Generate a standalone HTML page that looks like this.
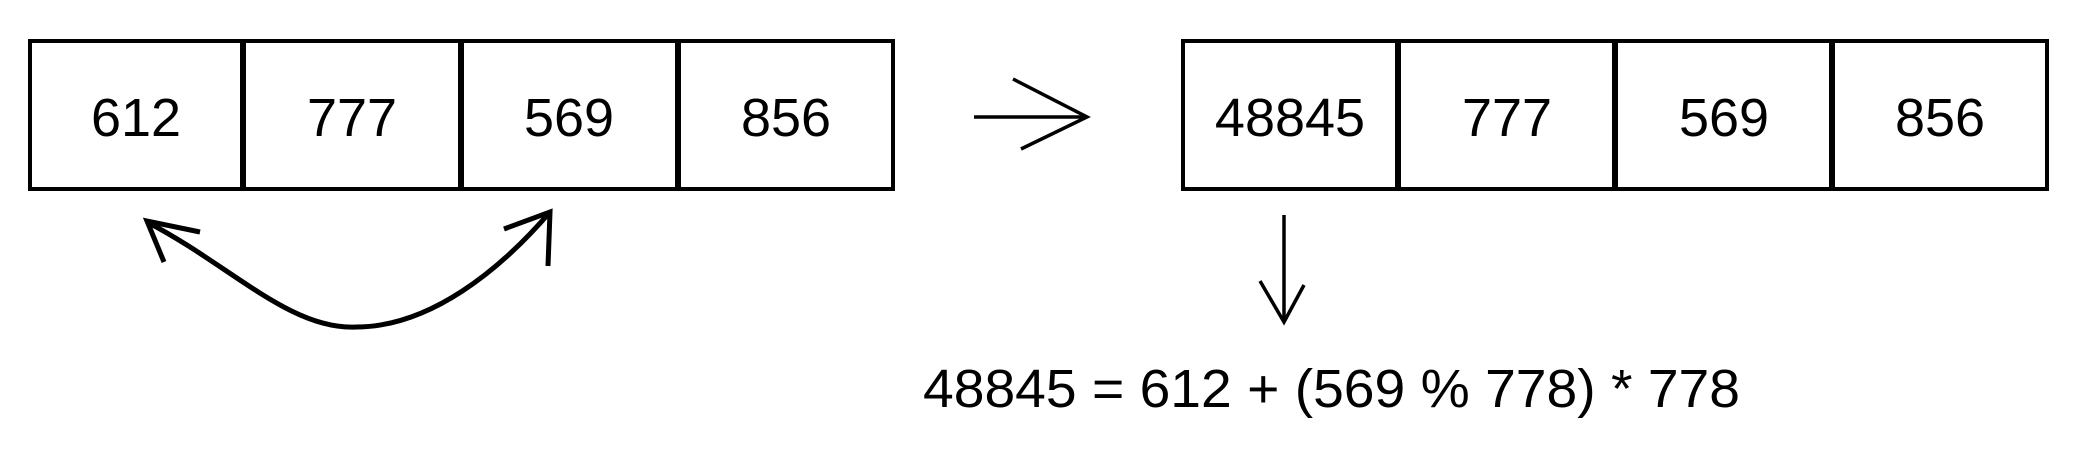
<!DOCTYPE html>
<html><head><meta charset="utf-8"><style>
html,body{margin:0;padding:0;background:#fff;}
svg{display:block;}
text{font-family:"Liberation Sans",sans-serif;fill:#000;}
</style></head><body>
<svg width="2099" height="449" viewBox="0 0 2099 449">
<g>
<rect x="30" y="41" width="863" height="148" fill="none" stroke="#000" stroke-width="4"/>
<line x1="243" y1="40" x2="243" y2="190" stroke="#000" stroke-width="6"/>
<line x1="461" y1="40" x2="461" y2="190" stroke="#000" stroke-width="6"/>
<line x1="678" y1="40" x2="678" y2="190" stroke="#000" stroke-width="6"/>
<text x="136" y="136" font-size="54" text-anchor="middle">612</text>
<text x="352" y="136" font-size="54" text-anchor="middle">777</text>
<text x="569" y="136" font-size="54" text-anchor="middle">569</text>
<text x="786" y="136" font-size="54" text-anchor="middle">856</text>
</g>
<g fill="none" stroke="#000" stroke-width="5">
<path d="M147,222 C230,265 290,330 356,327 C430,327 500,270 550,212"/>
<polyline points="200,232 147,221 164,262"/>
<polyline points="504,229 550,212 548,266"/>
</g>
<g fill="none" stroke="#000" stroke-width="3.5">
<line x1="974" y1="117" x2="1087" y2="117"/>
<polyline points="1013,79 1087,117 1021,149"/>
</g>
<g>
<rect x="1183" y="41" width="864" height="148" fill="none" stroke="#000" stroke-width="4"/>
<line x1="1398" y1="40" x2="1398" y2="190" stroke="#000" stroke-width="6"/>
<line x1="1615" y1="40" x2="1615" y2="190" stroke="#000" stroke-width="6"/>
<line x1="1832" y1="40" x2="1832" y2="190" stroke="#000" stroke-width="6"/>
<text x="1290" y="136" font-size="54" text-anchor="middle">48845</text>
<text x="1507" y="136" font-size="54" text-anchor="middle">777</text>
<text x="1724" y="136" font-size="54" text-anchor="middle">569</text>
<text x="1940" y="136" font-size="54" text-anchor="middle">856</text>
</g>
<g fill="none" stroke="#000" stroke-width="3.5">
<line x1="1284" y1="215" x2="1284" y2="322"/>
<polyline points="1260,281 1284,322 1304,285"/>
</g>
<text x="923" y="407" font-size="54" textLength="817" lengthAdjust="spacingAndGlyphs">48845 = 612 + (569 % 778) * 778</text>
</svg>
</body></html>
